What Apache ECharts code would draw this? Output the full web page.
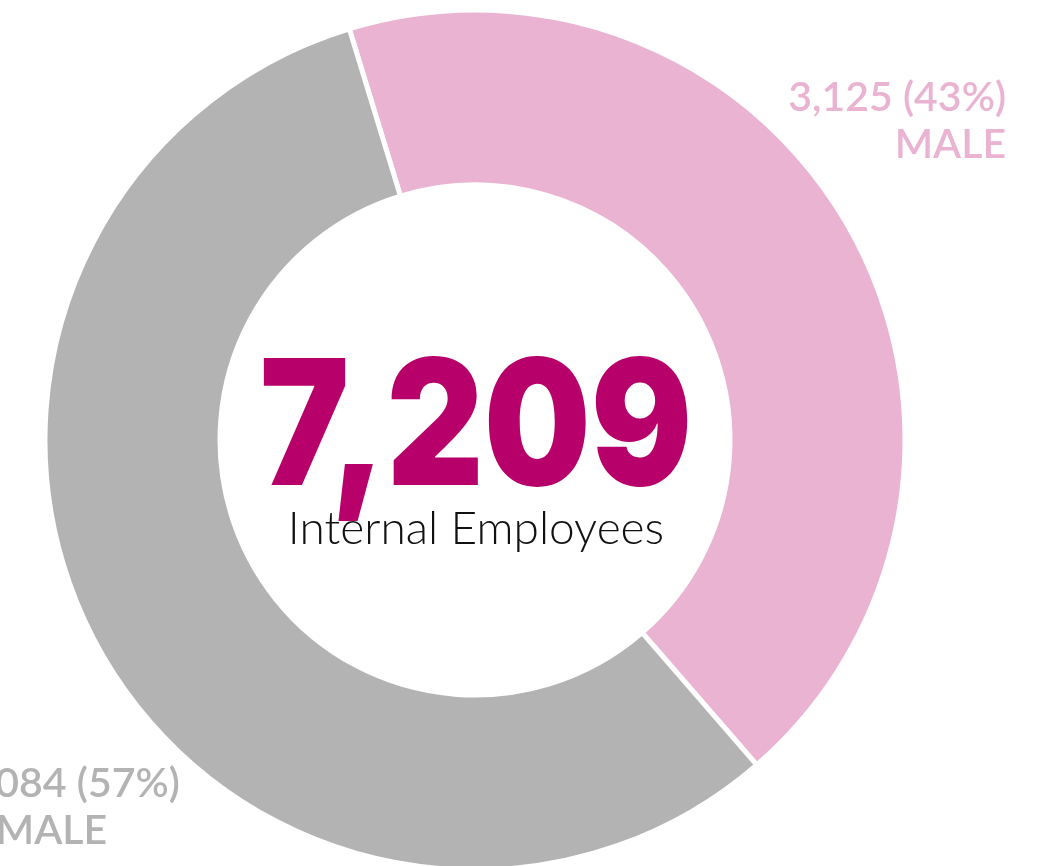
<!DOCTYPE html>
<html>
<head>
<meta charset="utf-8">
<script src="https://cdn.jsdelivr.net/npm/echarts@6/dist/echarts.min.js"></script>
<style>
html,body{margin:0;padding:0;background:#fff;}
#main{width:1061px;height:866px;}
</style>
</head>
<body>
<div id="main"></div>
<script>
var categories = ['MALE', 'FEMALE'];
var values = [3125, 4084];
var colors = ['#eab3d1', '#b3b3b3'];
var totalLabel = 'Internal Employees';

var total = values[0] + values[1];
function fmt(n){ return n.toString().replace(/\B(?=(\d{3})+(?!\d))/g, ','); }
function pct(n){ return Math.round(n / total * 100) + '%'; }

var chart = echarts.init(document.getElementById('main'));

var option = {
	animation: false,
	series: [{
		type: 'pie',
		center: [475, 440],
		radius: [255, 430],
		startAngle: 107,
		clockwise: true,
		z: 1,
		label: {show: false},
		labelLine: {show: false},
		itemStyle: {borderColor: '#fff', borderWidth: 5},
		data: [
			{name: categories[0], value: values[0], itemStyle: {color: colors[0]}},
			{name: categories[1], value: values[1], itemStyle: {color: colors[1]}}
		]
	}],
	graphic: [
		{
			// total in the hole
			type: 'text', x: 476, y: 345, z: 100, scaleX: 0.86,
			style: {text: fmt(total), fill: '#b8006a', font: '900 175px Inter', align: 'center', verticalAlign: 'top'}
		},
		{
			type: 'text', x: 476, y: 506, z: 100,
			style: {text: totalLabel, fill: '#111', font: '300 46px Lato', align: 'center', verticalAlign: 'top'}
		},
		{
			type: 'text', x: 1006, y: 74, z: 100,
			style: {
				text: fmt(values[0]) + ' (' + pct(values[0]) + ')\n' + categories[0],
				fill: colors[0], font: '600 41px Lato', align: 'right', verticalAlign: 'top', lineHeight: 47
			}
		},
		{
			type: 'text', x: -38, y: 760, z: 100,
			style: {
				text: fmt(values[1]) + ' (' + pct(values[1]) + ')',
				fill: colors[1], font: '600 41px Lato', align: 'left', verticalAlign: 'top', lineHeight: 47
			}
		},
		{
			type: 'text', x: -51, y: 807, z: 100,
			style: {
				text: categories[1],
				fill: colors[1], font: '600 41px Lato', align: 'left', verticalAlign: 'top', lineHeight: 47
			}
		}
	]
};
chart.setOption(option);
</script>
</body>
</html>
